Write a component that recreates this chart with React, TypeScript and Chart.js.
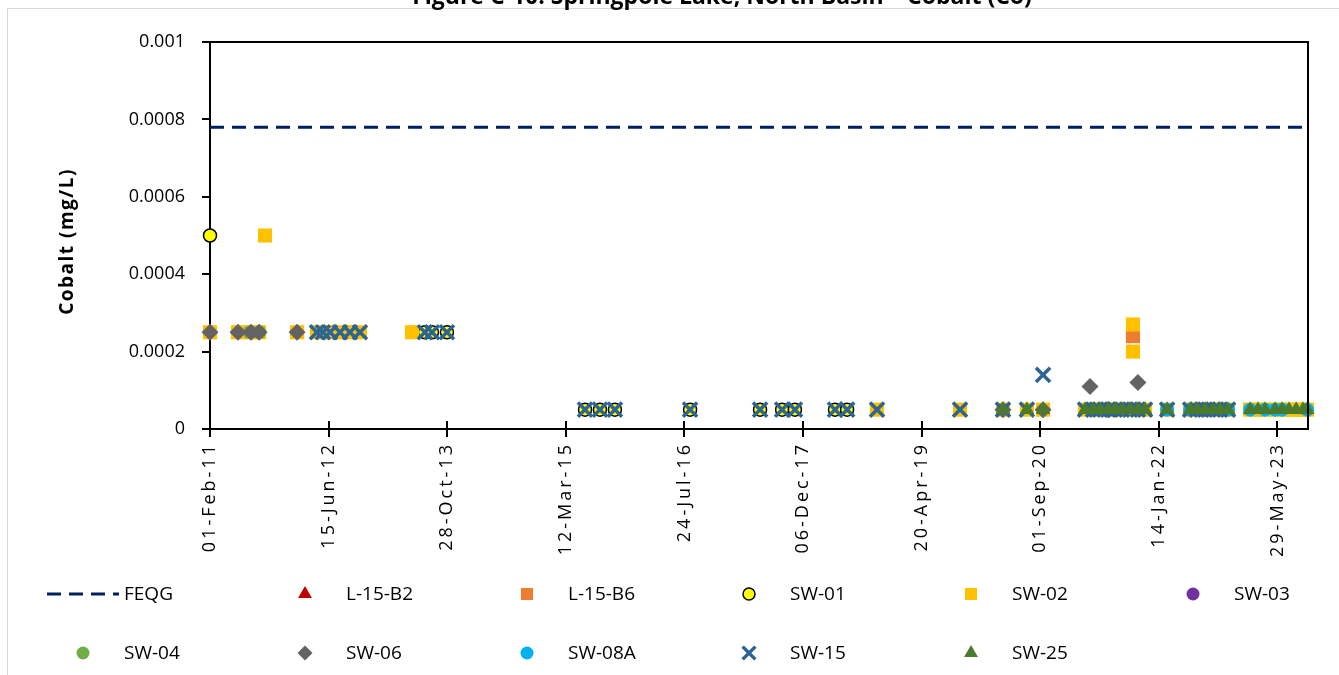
import { useEffect, useRef } from 'react';
import { Chart, registerables } from 'chart.js';
import { drawPoint } from 'chart.js/helpers';

Chart.register(...registerables);

// ---------- data ----------
const chartTitle = 'Figure C-10: Springpole Lake, North Basin – Cobalt (Co)';
const yAxisTitle = 'Cobalt (mg/L)';
const axisStart = '2011-02-01';
const axisEnd = '2023-10-05';
const tickLabels = ['01-Feb-11', '15-Jun-12', '28-Oct-13', '12-Mar-15', '24-Jul-16', '06-Dec-17', '20-Apr-19', '01-Sep-20', '14-Jan-22', '29-May-23'];
const yMin = 0;
const yMax = 0.001;
const yStep = 0.0002;

const feqgDates = [axisStart, axisEnd];
const feqgValues = [0.00078, 0.00078];

const l15b2Dates = ['2021-06-14', '2021-09-15'];
const l15b2Values = [0.00005, 0.00005];

const l15b6Dates = ['2021-06-14', '2021-09-27'];
const l15b6Values = [0.00005, 0.00024];

const sw01Dates = ['2011-02-01', '2013-07-26', '2013-08-25', '2013-10-27', '2015-06-01', '2015-08-03', '2015-10-05', '2016-08-17', '2017-06-08', '2017-09-09', '2017-11-02', '2018-04-20', '2018-06-10'];
const sw01Values = [0.0005, 0.00025, 0.00025, 0.00025, 0.00005, 0.00005, 0.00005, 0.00005, 0.00005, 0.00005, 0.00005, 0.00005, 0.00005];

const sw02Dates = ['2011-02-01', '2011-05-30', '2011-07-24', '2011-08-27', '2011-09-21', '2012-02-03', '2012-04-27', '2012-05-22', '2012-06-21', '2012-08-02', '2012-09-13', '2012-10-25', '2013-06-02',
  '2018-10-14', '2019-09-29', '2020-03-28', '2020-07-07', '2020-09-13', '2021-03-09', '2021-04-12', '2021-05-11', '2021-06-14', '2021-07-13', '2021-08-12', '2021-09-15', '2021-09-27', '2021-09-27', '2021-10-18', '2021-11-17',
  '2022-02-18', '2022-05-26', '2022-06-24', '2022-07-28', '2022-08-31', '2022-09-29', '2022-11-02', '2023-02-03', '2023-03-08', '2023-04-07', '2023-05-19', '2023-06-18', '2023-07-17', '2023-08-16', '2023-09-14', '2023-10-01'];
const sw02Values = [0.00025, 0.00025, 0.00025, 0.00025, 0.0005, 0.00025, 0.00025, 0.00025, 0.00025, 0.00025, 0.00025, 0.00025, 0.00025,
  0.00005, 0.00005, 0.00005, 0.00005, 0.00005, 0.00005, 0.00005, 0.00005, 0.00005, 0.00005, 0.00005, 0.00005, 0.00027, 0.0002, 0.00005, 0.00005,
  0.00005, 0.00005, 0.00005, 0.00005, 0.00005, 0.00005, 0.00005, 0.00005, 0.00005, 0.00005, 0.00005, 0.00005, 0.00005, 0.00005, 0.00005, 0.00005];

const sw03Dates = ['2021-07-13', '2022-07-28'];
const sw03Values = [0.00005, 0.00005];

const sw04Dates = ['2011-07-19', '2011-08-27'];
const sw04Values = [0.00025, 0.00025];

const sw06Dates = ['2011-02-01', '2011-05-30', '2011-07-24', '2011-08-27', '2012-02-03', '2020-03-28', '2020-09-13', '2021-03-30', '2021-06-14', '2021-10-18'];
const sw06Values = [0.00025, 0.00025, 0.00025, 0.00025, 0.00025, 0.00005, 0.00005, 0.00011, 0.00005, 0.00012];

const sw08aDates = ['2022-02-18', '2022-05-26', '2022-11-02', '2023-02-03', '2023-04-07', '2023-05-19', '2023-06-18', '2023-10-01'];
const sw08aValues = [0.00005, 0.00005, 0.00005, 0.00005, 0.00005, 0.00005, 0.00005, 0.00005];

const sw15Dates = ['2012-04-27', '2012-05-22', '2012-06-21', '2012-08-02', '2012-09-13', '2012-10-25', '2013-07-26', '2013-08-25', '2013-10-27',
  '2015-06-01', '2015-08-03', '2015-10-05', '2016-08-17', '2017-06-08', '2017-09-09', '2017-11-02', '2018-04-20', '2018-06-10', '2018-10-14', '2019-09-29', '2020-03-28', '2020-07-07', '2020-09-13',
  '2021-03-09', '2021-04-12', '2021-05-11', '2021-06-14', '2021-07-13', '2021-08-12', '2021-09-15', '2021-10-18', '2021-11-17', '2022-02-18', '2022-05-26', '2022-06-24', '2022-07-28', '2022-08-31', '2022-09-29', '2022-11-02'];
const sw15Values = [0.00025, 0.00025, 0.00025, 0.00025, 0.00025, 0.00025, 0.00025, 0.00025, 0.00025,
  0.00005, 0.00005, 0.00005, 0.00005, 0.00005, 0.00005, 0.00005, 0.00005, 0.00005, 0.00005, 0.00005, 0.00005, 0.00005, 0.00014,
  0.00005, 0.00005, 0.00005, 0.00005, 0.00005, 0.00005, 0.00005, 0.00005, 0.00005, 0.00005, 0.00005, 0.00005, 0.00005, 0.00005, 0.00005, 0.00005];

const sw25Dates = ['2020-03-28', '2020-07-07', '2020-09-13', '2021-03-09', '2021-04-12', '2021-05-11', '2021-06-14', '2021-07-13', '2021-08-12', '2021-09-15', '2021-10-18', '2021-11-17',
  '2022-02-18', '2022-05-26', '2022-06-24', '2022-07-28', '2022-08-31', '2022-09-29', '2022-11-02', '2023-02-03', '2023-03-08', '2023-04-07', '2023-05-19', '2023-06-18', '2023-07-17', '2023-08-16', '2023-09-14', '2023-10-01'];
const sw25Values = sw25Dates.map(() => 0.00005);

// ---------- helpers ----------
const DAY = 86400000;
const BASE = Date.UTC(2011, 1, 1);
const MONTHS = ['Jan', 'Feb', 'Mar', 'Apr', 'May', 'Jun', 'Jul', 'Aug', 'Sep', 'Oct', 'Nov', 'Dec'];
const toDay = (s: string) => {
  const [y, m, d] = s.split('-').map(Number);
  return (Date.UTC(y, m - 1, d) - BASE) / DAY;
};
const labelToDay = (s: string) => {
  const [d, mon, yy] = s.split('-');
  return (Date.UTC(2000 + Number(yy), MONTHS.indexOf(mon), Number(d)) - BASE) / DAY;
};
const tickDays = tickLabels.map(labelToDay);
const fmtDay = (v: number) => {
  const idx = tickDays.findIndex((t) => Math.abs(t - v) < 0.5);
  return idx >= 0 ? tickLabels[idx] : '';
};
const pts = (dates: string[], values: number[]) => dates.map((d, i) => ({ x: toDay(d), y: values[i] }));

const FONT = '"Open Sans", "Noto Sans", sans-serif';

type SeriesStyle = { label: string; dates: string[]; values: number[]; style: string; bg: string; border: string; bw: number; r: number; lr: number };
const series: SeriesStyle[] = [
  { label: 'L-15-B2', dates: l15b2Dates, values: l15b2Values, style: 'triangle', bg: '#C00000', border: '#C00000', bw: 0, r: 8.5, lr: 8 },
  { label: 'L-15-B6', dates: l15b6Dates, values: l15b6Values, style: 'rect', bg: '#ED7D31', border: '#ED7D31', bw: 0, r: 10, lr: 8.5 },
  { label: 'SW-01', dates: sw01Dates, values: sw01Values, style: 'circle', bg: '#FFFF00', border: '#000000', bw: 1.5, r: 6.5, lr: 6 },
  { label: 'SW-02', dates: sw02Dates, values: sw02Values, style: 'rect', bg: '#FFC000', border: '#FFC000', bw: 0, r: 10, lr: 8.5 },
  { label: 'SW-03', dates: sw03Dates, values: sw03Values, style: 'circle', bg: '#7030A0', border: '#7030A0', bw: 0, r: 7, lr: 6.5 },
  { label: 'SW-04', dates: sw04Dates, values: sw04Values, style: 'circle', bg: '#70AD47', border: '#70AD47', bw: 0, r: 7, lr: 6.5 },
  { label: 'SW-06', dates: sw06Dates, values: sw06Values, style: 'rectRot', bg: '#636363', border: '#636363', bw: 0, r: 8.5, lr: 7.5 },
  { label: 'SW-08A', dates: sw08aDates, values: sw08aValues, style: 'circle', bg: '#00B0F0', border: '#00B0F0', bw: 0, r: 7, lr: 6.5 },
  { label: 'SW-15', dates: sw15Dates, values: sw15Values, style: 'crossRot', bg: '#2C6496', border: '#2C6496', bw: 3.5, r: 10, lr: 9 },
  { label: 'SW-25', dates: sw25Dates, values: sw25Values, style: 'triangle', bg: '#4A7A2B', border: '#4A7A2B', bw: 0, r: 8.5, lr: 8 },
];

const FEQG_COLOR = '#002060';
const FEQG_DASH = [14, 8];

const decorPlugin = {
  id: 'decor',
  beforeDraw(chart: any) {
    const { ctx } = chart;
    ctx.save();
    ctx.fillStyle = '#ffffff';
    ctx.fillRect(0, 0, chart.width, chart.height);
    ctx.strokeStyle = '#D9D9D9';
    ctx.lineWidth = 1;
    ctx.strokeRect(7.5, 8.5, chart.width + 10, chart.height + 10);
    ctx.fillStyle = '#000';
    ctx.font = `bold 23px ${FONT}`;
    ctx.textAlign = 'center';
    ctx.textBaseline = 'alphabetic';
    ctx.fillText(chartTitle, 722, 4);
    ctx.restore();
  },
  afterDatasetsDraw(chart: any) {
    // rotated x tick labels (drawn in a later layer) use wider letter spacing
    (chart.ctx as any).letterSpacing = '3px';
  },
  afterDraw(chart: any) {
    const { ctx, chartArea } = chart;
    (ctx as any).letterSpacing = '0px';
    const xs = chart.scales.x;
    ctx.save();
    // plot area top/right border
    ctx.strokeStyle = '#000';
    ctx.lineWidth = 2;
    ctx.beginPath();
    ctx.moveTo(chartArea.left, chartArea.top);
    ctx.lineTo(chartArea.right, chartArea.top);
    ctx.lineTo(chartArea.right, chartArea.bottom);
    ctx.stroke();
    // inner half of the cross tick marks
    ctx.beginPath();
    xs.ticks.forEach((t: any) => {
      const px = Math.round(xs.getPixelForValue(t.value));
      ctx.moveTo(px, chartArea.bottom);
      ctx.lineTo(px, chartArea.bottom - 8);
    });
    ctx.stroke();

    // y axis title
    ctx.save();
    ctx.translate(68, (chartArea.top + chartArea.bottom) / 2 + 6);
    ctx.rotate(-Math.PI / 2);
    (ctx as any).letterSpacing = '1.5px';
    ctx.font = `bold 19px ${FONT}`;
    ctx.fillStyle = '#000';
    ctx.textAlign = 'center';
    ctx.textBaseline = 'middle';
    ctx.fillText(yAxisTitle, 0, 0);
    (ctx as any).letterSpacing = '0px';
    ctx.restore();

    // legend
    const colX = [83, 305, 527, 749, 971, 1193];
    const rowY = [594, 653];
    const items: any[] = [{ label: 'FEQG', line: true }, ...series];
    ctx.font = `19px ${FONT}`;
    ctx.textBaseline = 'middle';
    ctx.textAlign = 'left';
    items.forEach((it, i) => {
      const row = Math.floor(i / 6);
      const col = i % 6;
      const cx = colX[col];
      const cy = rowY[row];
      if (it.line) {
        ctx.save();
        ctx.strokeStyle = FEQG_COLOR;
        ctx.lineWidth = 3;
        ctx.setLineDash(FEQG_DASH);
        ctx.beginPath();
        ctx.moveTo(47, cy);
        ctx.lineTo(119, cy);
        ctx.stroke();
        ctx.restore();
      } else {
        ctx.save();
        ctx.fillStyle = it.bg;
        ctx.strokeStyle = it.border;
        ctx.lineWidth = it.bw;
        drawPoint(ctx, { pointStyle: it.style, radius: it.lr, borderWidth: it.bw, rotation: 0 } as any, cx, cy);
        ctx.restore();
      }
      ctx.fillStyle = '#000';
      ctx.fillText(it.label, cx + 41, cy + 1);
    });
    ctx.restore();
  },
};

export default function App() {
  const ref = useRef<HTMLCanvasElement | null>(null);
  useEffect(() => {
    if (!ref.current) return;
    const n = series.length + 1;
    const datasets: any[] = [
      {
        type: 'line',
        label: 'FEQG',
        data: pts(feqgDates, feqgValues),
        borderColor: FEQG_COLOR,
        borderWidth: 3,
        borderDash: FEQG_DASH,
        pointRadius: 0,
        showLine: true,
        fill: false,
        order: n,
      },
      ...series.map((s, i) => ({
        type: 'scatter',
        label: s.label,
        data: pts(s.dates, s.values),
        pointStyle: s.style,
        pointRadius: s.r,
        pointHoverRadius: s.r,
        backgroundColor: s.bg,
        borderColor: s.border,
        pointBorderWidth: s.bw,
        borderWidth: s.bw,
        showLine: false,
        clip: false,
        order: n - 1 - i,
      })),
    ];
    const chart = new Chart(ref.current, {
      type: 'scatter',
      data: { datasets },
      plugins: [decorPlugin],
      options: {
        animation: false,
        responsive: true,
        maintainAspectRatio: false,
        layout: { padding: { top: 42, right: 31, left: 0, bottom: 0 } },
        plugins: { legend: { display: false }, tooltip: { enabled: false }, title: { display: false } },
        scales: {
          x: {
            type: 'linear',
            position: 'bottom',
            min: toDay(axisStart),
            max: toDay(axisEnd),
            afterBuildTicks: (s: any) => {
              s.ticks = tickDays.map((v) => ({ value: v }));
            },
            afterFit: (s: any) => {
              s.height = 246;
            },
            ticks: {
              autoSkip: false,
              minRotation: 90,
              maxRotation: 90,
              padding: 5,
              z: 1,
              color: '#000',
              font: { family: FONT, size: 18 },
              callback: (v: any) => fmtDay(Number(v)),
            },
            grid: { display: true, drawOnChartArea: false, drawTicks: true, tickLength: 8, color: '#000', lineWidth: 2 },
            border: { display: true, color: '#000', width: 2 },
          },
          y: {
            type: 'linear',
            min: yMin,
            max: yMax,
            afterFit: (s: any) => {
              s.width = 210;
            },
            ticks: {
              stepSize: yStep,
              padding: 17,
              color: '#000',
              font: { family: FONT, size: 18 },
              callback: (v: any) => String(+Number(v).toFixed(4)),
            },
            grid: { display: true, drawOnChartArea: false, drawTicks: true, tickLength: 8, color: '#000', lineWidth: 2 },
            border: { display: true, color: '#000', width: 2 },
            title: { display: false },
          },
        },
      } as any,
    });
    return () => chart.destroy();
  }, []);
  return (
    <div style={{ position: 'absolute', left: 0, top: 0, width: 1339, height: 675, background: '#fff' }}>
      <canvas ref={ref} />
    </div>
  );
}
